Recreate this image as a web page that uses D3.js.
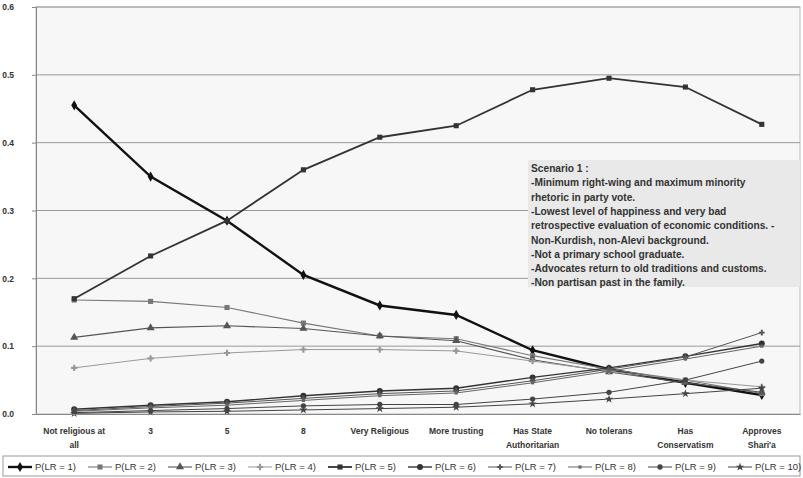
<!DOCTYPE html>
<html>
<head>
<meta charset="utf-8">
<script src="https://cdn.jsdelivr.net/npm/d3@7"></script>
<style>
  body { margin: 0; background: #fff; }
  text { font-family: "Liberation Sans", Arial, sans-serif; }
</style>
</head>
<body>
<div id="wrapper"></div>
<script>
// categories on the x axis
const categories = ["Not religious at all", "3", "5", "8", "Very Religious", "More trusting",
    "Has State Authoritarian", "No tolerans", "Has Conservatism", "Approves Shari'a"];

// predicted probabilities, one array per left-right position
const lr1 = [0.455, 0.350, 0.285, 0.205, 0.160, 0.146, 0.094, 0.066, 0.046, 0.028];
const lr2 = [0.168, 0.166, 0.157, 0.134, 0.115, 0.111, 0.086, 0.066, 0.050, 0.030];
const lr3 = [0.113, 0.127, 0.130, 0.126, 0.115, 0.108, 0.080, 0.062, 0.046, 0.032];
const lr4 = [0.068, 0.082, 0.090, 0.095, 0.095, 0.093, 0.078, 0.063, 0.050, 0.040];
const lr5 = [0.170, 0.233, 0.285, 0.360, 0.408, 0.425, 0.478, 0.495, 0.482, 0.427];
const lr6 = [0.007, 0.013, 0.018, 0.027, 0.034, 0.038, 0.054, 0.068, 0.085, 0.104];
const lr7 = [0.005, 0.011, 0.016, 0.023, 0.030, 0.034, 0.049, 0.066, 0.084, 0.120];
const lr8 = [0.004, 0.009, 0.013, 0.020, 0.027, 0.031, 0.046, 0.063, 0.081, 0.100];
const lr9 = [0.002, 0.005, 0.008, 0.012, 0.014, 0.014, 0.022, 0.032, 0.050, 0.078];
const lr10 = [0.001, 0.003, 0.004, 0.006, 0.008, 0.010, 0.015, 0.022, 0.030, 0.038];

const seriesNames = ["P(LR = 1)", "P(LR = 2)", "P(LR = 3)", "P(LR = 4)", "P(LR = 5)",
    "P(LR = 6)", "P(LR = 7)", "P(LR = 8)", "P(LR = 9)", "P(LR = 10)"];
const seriesValues = [lr1, lr2, lr3, lr4, lr5, lr6, lr7, lr8, lr9, lr10];

const yTicks = [0, 0.1, 0.2, 0.3, 0.4, 0.5, 0.6];

const noteLines = [
    "Scenario 1 :",
    "-Minimum right-wing and maximum minority",
    "rhetoric in party vote.",
    "-Lowest level of happiness and very bad",
    "retrospective evaluation of economic conditions. -",
    "Non-Kurdish, non-Alevi background.",
    "-Not a primary school graduate.",
    "-Advocates return to old traditions and customs.",
    "-Non partisan past in the family."
];

// look of each series (marker symbol, stroke)
const styles = [
    { symbol: d3.symbolDiamond, size: 30, color: "#111", width: 2.4 },
    { symbol: d3.symbolSquare, size: 26, color: "#777", width: 1.1 },
    { symbol: d3.symbolTriangle, size: 28, color: "#555", width: 1.1 },
    { symbol: d3.symbolCross, size: 22, color: "#999", width: 1.0 },
    { symbol: d3.symbolSquare, size: 26, color: "#333", width: 1.8 },
    { symbol: d3.symbolCircle, size: 28, color: "#333", width: 1.4 },
    { symbol: d3.symbolCross, size: 18, color: "#555", width: 1.0 },
    { symbol: d3.symbolSquare, size: 10, color: "#666", width: 1.0 },
    { symbol: d3.symbolCircle, size: 22, color: "#444", width: 1.0 },
    { symbol: d3.symbolStar, size: 22, color: "#444", width: 1.0 },
];

function drawChart() {
    const dimensions = {
        width: 803,
        height: 478,
        margin: { top: 7, right: 3, bottom: 64, left: 36 },
    };
    dimensions.boundedWidth = dimensions.width - dimensions.margin.left - dimensions.margin.right;
    dimensions.boundedHeight = dimensions.height - dimensions.margin.top - dimensions.margin.bottom;

    const wrapper = d3.select("#wrapper")
        .append("svg")
        .attr("width", dimensions.width)
        .attr("height", dimensions.height);

    const bounds = wrapper.append("g")
        .attr("transform", `translate(${dimensions.margin.left},${dimensions.margin.top})`);

    // scales
    const xScale = d3.scaleBand()
        .domain(categories)
        .range([0, dimensions.boundedWidth]);

    const yScale = d3.scaleLinear()
        .domain([0, 0.6])
        .range([dimensions.boundedHeight, 0]);

    // plot background
    bounds.append("rect")
        .attr("width", dimensions.boundedWidth)
        .attr("height", dimensions.boundedHeight)
        .attr("fill", "#f7f7f7")
        .attr("stroke", "#bbb");

    // gridlines
    bounds.append("g")
        .selectAll("line")
        .data(yTicks.slice(1))
        .join("line")
        .attr("x1", 0)
        .attr("x2", dimensions.boundedWidth)
        .attr("y1", d => yScale(d))
        .attr("y2", d => yScale(d))
        .attr("stroke", "#999")
        .attr("stroke-width", 1);

    // note box
    const note = bounds.append("g")
        .attr("transform", `translate(${528 - dimensions.margin.left},${160 - dimensions.margin.top})`);
    note.append("rect")
        .attr("width", dimensions.boundedWidth - (528 - dimensions.margin.left))
        .attr("height", 127)
        .attr("fill", "#e9e9e9");
    note.selectAll("text")
        .data(noteLines)
        .join("text")
        .attr("x", 3)
        .attr("y", (d, i) => 12 + i * 14.3)
        .attr("font-size", 10.2)
        .attr("font-weight", "bold")
        .attr("fill", "#333")
        .text(d => d);

    // lines and markers
    const lineGen = d3.line()
        .x((d, i) => xScale(categories[i]) + xScale.bandwidth() / 2)
        .y(d => yScale(d));

    seriesValues.forEach((values, s) => {
        const st = styles[s];
        const g = bounds.append("g");
        g.append("path")
            .datum(values)
            .attr("d", lineGen)
            .attr("fill", "none")
            .attr("stroke", st.color)
            .attr("stroke-width", st.width);
        g.selectAll("path.mark")
            .data(values)
            .join("path")
            .attr("class", "mark")
            .attr("d", d3.symbol().type(st.symbol).size(st.size))
            .attr("transform", (d, i) =>
                `translate(${xScale(categories[i]) + xScale.bandwidth() / 2},${yScale(d)})`)
            .attr("fill", st.color);
    });

    // axes
    const yAxis = bounds.append("g")
        .call(d3.axisLeft(yScale).tickValues(yTicks).tickFormat(d3.format(".1f")).tickSize(4).tickPadding(18));
    yAxis.select(".domain").attr("stroke", "#888");
    yAxis.selectAll(".tick line").attr("stroke", "#888");
    yAxis.selectAll("text")
        .attr("font-size", 8.5)
        .attr("font-weight", "bold")
        .attr("fill", "#333");

    const xAxis = bounds.append("g")
        .attr("transform", `translate(0,${dimensions.boundedHeight})`)
        .call(d3.axisBottom(xScale).tickSize(0).tickPadding(14));
    xAxis.select(".domain").attr("stroke", "#888");
    xAxis.selectAll("text")
        .attr("font-size", 8.5)
        .attr("font-weight", "bold")
        .attr("fill", "#333")
        .call(wrap, 66);

    // legend
    const legend = wrapper.append("g")
        .attr("transform", "translate(3,456)");
    legend.append("rect")
        .attr("width", 797)
        .attr("height", 20)
        .attr("fill", "#fff")
        .attr("stroke", "#999");

    const items = legend.selectAll("g")
        .data(seriesNames)
        .join("g")
        .attr("transform", (d, i) => `translate(${5 + i * 80},11)`);
    items.append("line")
        .attr("x1", 0)
        .attr("x2", 24)
        .attr("stroke", (d, i) => styles[i].color)
        .attr("stroke-width", (d, i) => styles[i].width);
    items.append("path")
        .attr("d", (d, i) => d3.symbol().type(styles[i].symbol).size(styles[i].size)())
        .attr("transform", "translate(12,0)")
        .attr("fill", (d, i) => styles[i].color);
    items.append("text")
        .attr("x", 27)
        .attr("y", 3)
        .attr("font-size", 9.5)
        .attr("fill", "#333")
        .text(d => d);
}

// wrap long tick labels onto several lines
function wrap(texts, width) {
    texts.each(function () {
        const text = d3.select(this);
        const words = text.text().split(/\s+/);
        const y = text.attr("y");
        const dy = parseFloat(text.attr("dy")) || 0;
        text.text(null);
        let line = [];
        let lineNumber = 0;
        let tspan = text.append("tspan").attr("x", 0).attr("y", y).attr("dy", dy + "em");
        words.forEach(word => {
            line.push(word);
            tspan.text(line.join(" "));
            if (tspan.node().getComputedTextLength() > width && line.length > 1) {
                line.pop();
                tspan.text(line.join(" "));
                line = [word];
                lineNumber++;
                tspan = text.append("tspan").attr("x", 0).attr("y", y)
                    .attr("dy", (lineNumber * 1.6 + dy) + "em").text(word);
            }
        });
    });
}

drawChart();
</script>
</body>
</html>
